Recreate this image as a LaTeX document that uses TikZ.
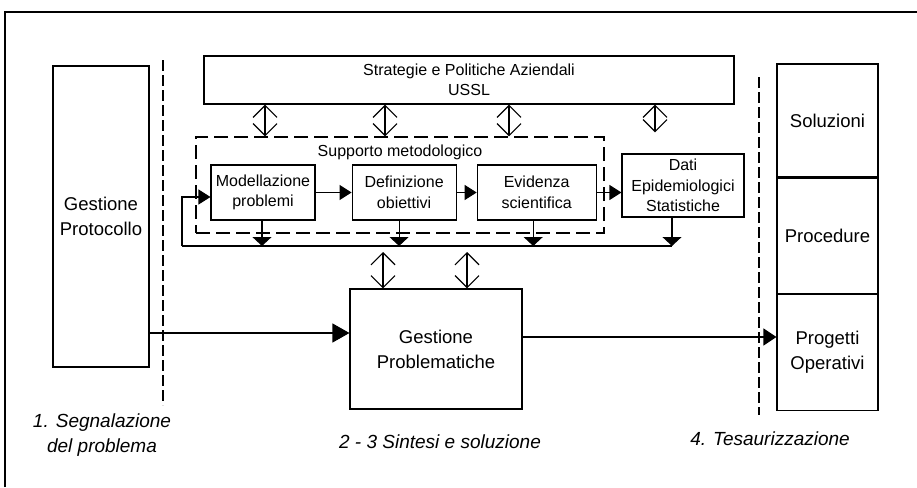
\documentclass[tikz,border=0pt]{standalone}
\usepackage{fontspec}
\setmainfont{Liberation Sans}
\usetikzlibrary{arrows.meta, positioning, calc}

\begin{document}
\begin{tikzpicture}[
    x=1pt, y=-1pt,
    txt/.style={font=\fontsize{16}{20.5}\selectfont},
    box/.style={draw, line width=1.1pt, inner sep=0pt, align=center, txt},
    bigbox/.style={box, font=\fontsize{18.5}{25}\selectfont},
    suppbox/.style={draw, line width=1.1pt, dash pattern=on 14pt off 6pt, inner sep=0pt},
    phase/.style={align=center, font=\fontsize{19}{25}\selectfont\itshape},
    divider/.style={line width=1.1pt, dash pattern=on 11pt off 4pt},
    flow/.style={line width=1.1pt, -{Triangle[length=12pt,width=15pt]}},
    drop/.style={line width=1.1pt, -{Triangle[length=9pt,width=19pt]}},
    bigflow/.style={line width=1.1pt, -{Triangle[length=17pt,width=19pt]}},
    twoway/.style={line width=1.2pt, {Straight Barb[length=12pt,width=24pt]}-{Straight Barb[length=12pt,width=24pt]}}
]
\useasboundingbox (0,0) rectangle (917,487);

% -------- Frame (only top and left side show) --------
\draw[line width=1.3pt] (5,487) |- (917,12);

% -------- Left: segnalazione --------
\node[bigbox, minimum width=96pt, minimum height=301pt] (proto) at (101,216.5) {Gestione\\Protocollo};

% -------- Top: strategie --------
\node[box, minimum width=530pt, minimum height=48pt] (strat) at (469,80) {Strategie e Politiche Aziendali\\USSL};

% -------- Supporto metodologico --------
\node[suppbox, minimum width=408pt, minimum height=96pt] (supp) at (400,185) {};
\node[txt] (supptitle) at (400,152) {Supporto metodologico};

\node[box, minimum width=104pt, minimum height=55pt] (model) at (263,192.5) {Modellazione\\problemi};
\node[box, minimum width=104pt, minimum height=55pt, right=36pt of model] (defin) {Definizione\\obiettivi};
\node[box, minimum width=119pt, minimum height=55pt, right=20pt of defin] (evid) {Evidenza\\scientifica};

% data box outside the dashed group
\node[box, minimum width=122pt, minimum height=63pt] (dati) at (683,185.5) {Dati\\Epidemiologici\\Statistiche};

% -------- Centre: gestione problematiche --------
\node[bigbox, minimum width=172pt, minimum height=120pt] (gprob) at (436,349) {Gestione\\Problematiche};

% -------- Right: tesaurizzazione --------
\node[bigbox, minimum width=101pt, minimum height=113pt] (sol) at (827.5,120.5) {Soluzioni};
\node[bigbox, minimum width=101pt, minimum height=115pt, below=0pt of sol] (proc) {Procedure};
\node[bigbox, minimum width=101pt, minimum height=116pt, below=0pt of proc] (prog) {Progetti\\Operativi};

% -------- Phase labels --------
\node[phase] (ph1) at (102,435.5) {1. Segnalazione\\del problema};
\node[phase] (ph2) at (440,442) {2 - 3 Sintesi e soluzione};
\node[phase] (ph4) at (770,439) {4. Tesaurizzazione};

% -------- Dividers --------
\coordinate (d1top) at (163,60);
\coordinate (d1bot) at (163,405);
\coordinate (d2top) at (759,77);
\coordinate (d2bot) at (759,415);
\draw[divider] (d1top) -- (d1bot);
\draw[divider] (d2top) -- (d2bot);

% -------- Strategie <-> supporto --------
\foreach \dx/\i in {-204/1,-84/2,40/3,186/4} {
    \path ([xshift=\dx pt]strat.south) coordinate (st\i);
}
\foreach \i in {1,2,3} {
    \draw[twoway] (st\i) -- (st\i |- supp.north);
}
\draw[twoway, shorten >=4pt] (st4) -- (st4 |- supp.north);

% -------- Chain inside supporto --------
\draw[flow] (model.east) -- (defin.west);
\draw[flow] (defin.east) -- (evid.west);
\draw[flow] (evid.east) -- (evid.east -| dati.west);

% -------- Feedback line --------
\coordinate (busL) at (182,246);
\coordinate (busR) at (672,246);
\draw[line width=1.1pt] (busL) -- (busR);
\draw[flow] (busL) |- ([yshift=-4.5pt]model.west);

\foreach \n/\dx in {model/-1,defin/-5,evid/-3.5,dati/-11} {
    \path ([xshift=\dx pt]\n.south) coordinate (dn\n);
    \draw[drop] (dn\n) -- (dn\n |- busL);
}

% -------- Feedback <-> gestione problematiche --------
\foreach \dx/\i in {-53/1,31/2} {
    \path ([xshift=\dx pt]gprob.north) coordinate (gp\i);
    \draw[twoway, shorten >=6pt] (gp\i) -- (gp\i |- busL);
}

% -------- Main flow --------
\coordinate (in1) at ([yshift=16pt]gprob.west);
\draw[bigflow] (proto.east |- in1) -- (in1);
\coordinate (out1) at ([yshift=12pt]gprob.east);
\draw[flow, -{Triangle[length=13pt,width=17pt]}] (out1) -- (out1 -| prog.west);

\end{tikzpicture}
\end{document}
